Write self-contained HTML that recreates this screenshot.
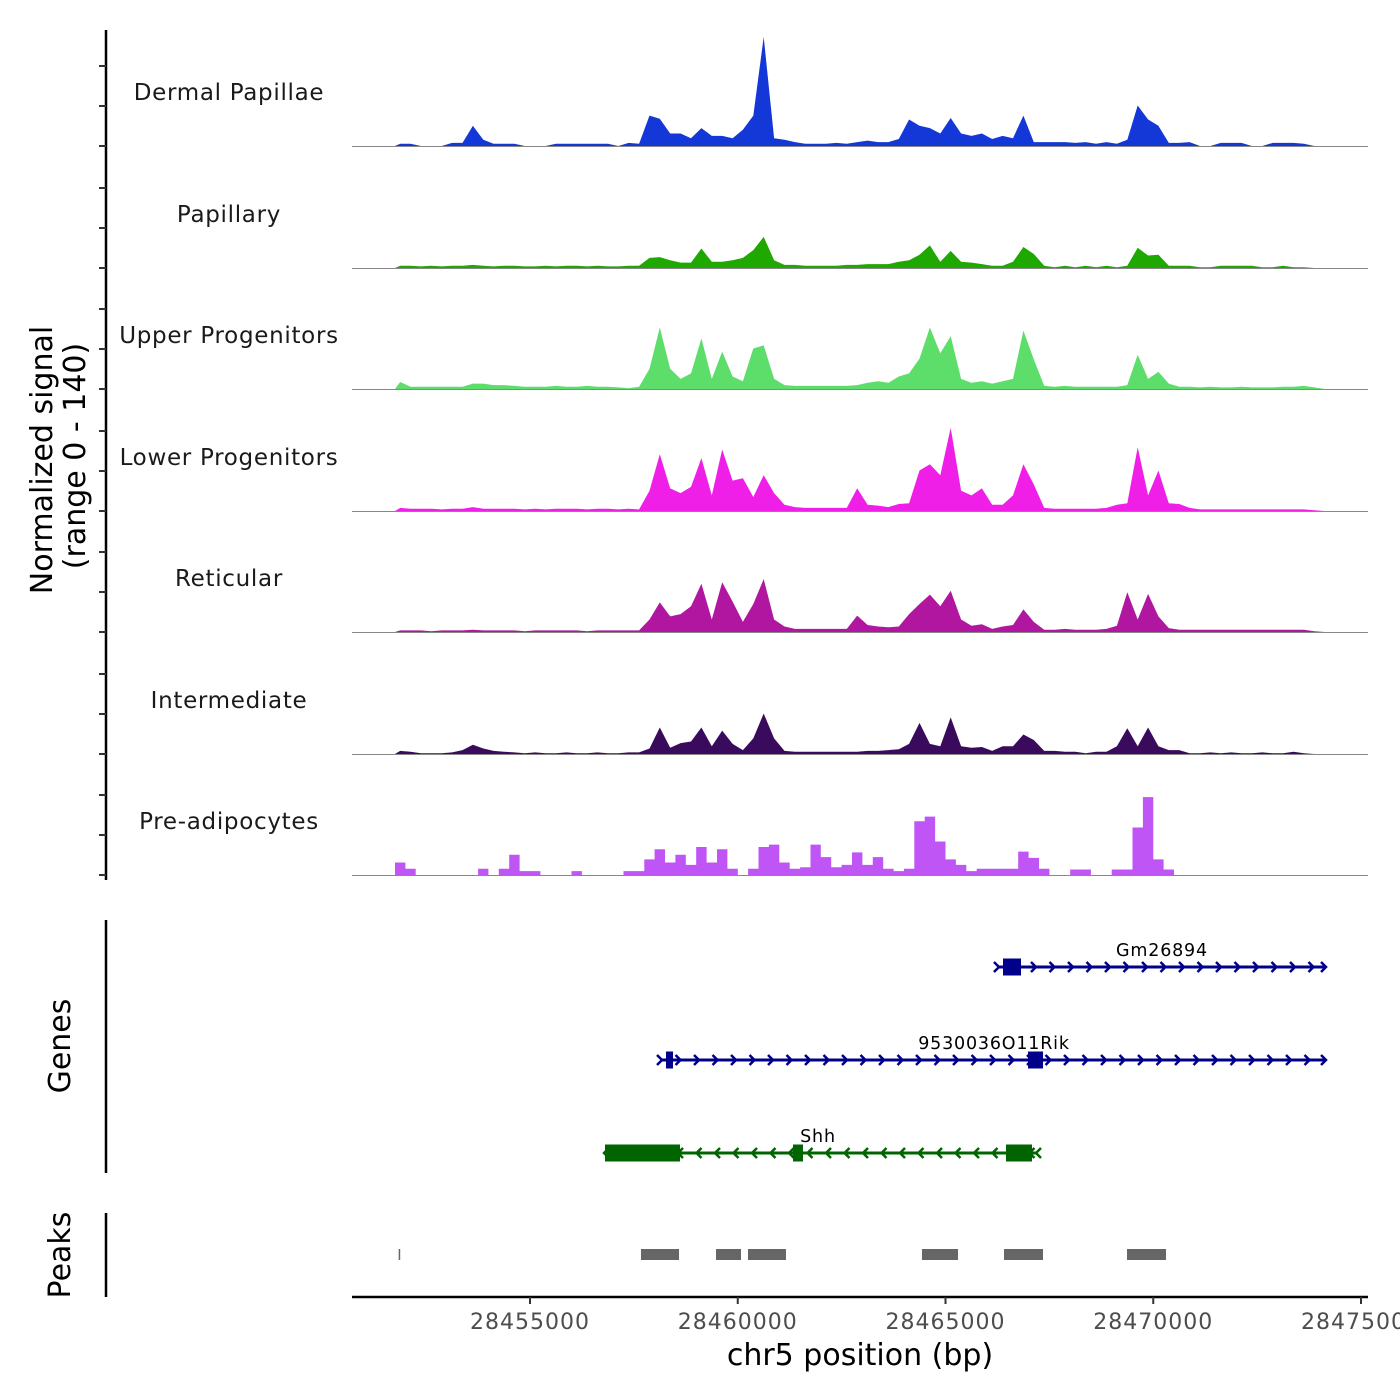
<!DOCTYPE html>
<html><head><meta charset="utf-8"><style>
html,body{margin:0;padding:0;background:#fff;}
svg{display:block;font-family:"DejaVu Sans","Liberation Sans",sans-serif;}
</style></head><body>
<svg id="chart" width="1400" height="1400" viewBox="0 0 1400 1400" xmlns="http://www.w3.org/2000/svg">
<rect x="0" y="0" width="1400" height="1400" fill="#fff"/>
<g id="tracks"></g>
<g id="genes"></g>
<g id="peaks"></g>
<g id="axes"></g>
<text transform="translate(52,460) rotate(-90)" text-anchor="middle" font-size="30" fill="#000">Normalized signal</text>
<text transform="translate(85,456) rotate(-90)" text-anchor="middle" font-size="30" fill="#000">(range 0 - 140)</text>
<text transform="translate(70,1046) rotate(-90)" text-anchor="middle" font-size="30" fill="#000">Genes</text>
<text transform="translate(70,1255) rotate(-90)" text-anchor="middle" font-size="30" fill="#000">Peaks</text>
<text x="860" y="1365" text-anchor="middle" font-size="30" fill="#000">chr5 position (bp)</text>
</svg>
<script>
const binStart = 28451750;
const binSize = 250;
const signalMax = 140;
const trackNames = ["Dermal Papillae","Papillary","Upper Progenitors","Lower Progenitors","Reticular","Intermediate","Pre-adipocytes"];
const trackColors = ["#1437d8","#1fa800","#5ddd6a","#f01fe8","#b0169f","#3a0a5c","#bf55f5"];
const dermalPapillae = [3,3,0,0,0,4,4,26,8,3, 3,3,0,0,0,3,3,3,3,3, 3,0,4,3,39,35,16,16,10,23, 13,13,10,21,39,140,10,8,5,3, 3,3,4,3,5,7,5,5,9,34, 26,23,16,36,16,13,16,9,13,10, 39,5,5,5,5,4,5,3,5,3, 8,52,34,26,4,4,5,0,0,4, 4,4,0,0,4,4,4,3,0,0];
const papillary = [3,3,2,3,2,3,3,4,3,2, 3,3,2,2,3,2,3,3,2,3, 2,2,3,3,13,14,10,7,7,25, 8,8,10,13,23,40,10,4,4,3, 3,3,3,4,4,5,5,5,8,10, 17,29,8,22,8,7,5,3,3,8, 27,18,3,1,3,1,3,1,3,1, 3,26,16,17,3,3,3,1,1,3, 3,3,3,1,1,3,1,1,0,0];
const upperProgenitors = [9,3,3,3,3,3,3,7,7,5, 5,4,3,3,3,4,3,3,4,3, 3,2,1,3,26,79,26,13,20,65, 13,48,16,10,52,56,13,5,4,4, 4,4,4,4,5,8,10,8,16,20, 39,79,46,68,13,8,10,7,10,13, 75,38,4,3,4,3,3,3,3,3, 5,44,13,22,7,3,3,2,3,2, 2,3,2,2,2,3,3,4,2,0];
const lowerProgenitors = [4,3,3,3,2,3,3,5,3,3, 3,3,2,3,2,3,3,3,2,3, 3,2,3,2,26,73,29,23,31,68, 20,79,39,42,18,46,23,8,5,4, 4,4,4,4,29,8,7,5,9,10, 52,60,46,107,26,20,29,8,8,20, 60,34,4,3,3,3,3,3,4,8, 10,82,20,52,10,9,4,2,2,2, 2,2,2,2,2,2,2,2,1,0];
const reticular = [2,2,2,1,2,2,2,3,2,2, 2,2,1,2,2,2,2,2,1,2, 2,2,2,2,16,38,20,23,33,62, 16,64,39,13,36,68,16,7,4,4, 4,4,4,4,21,9,7,6,7,23, 36,48,33,53,16,8,10,4,7,9, 29,13,3,3,4,3,3,3,4,8, 51,16,49,20,5,3,3,3,3,3, 3,3,3,3,3,3,3,3,1,0];
const intermediate = [4,3,1,1,1,2,5,12,7,4, 3,2,1,2,1,1,2,1,1,2, 1,1,2,2,7,34,8,14,16,34, 10,30,13,5,20,52,20,4,3,3, 3,3,3,3,3,4,4,5,6,13, 40,13,10,47,10,8,9,4,10,10, 25,18,4,4,3,3,1,3,3,10, 33,10,34,10,5,5,1,1,2,1, 2,1,1,2,1,1,3,1,0,0];
const preAdipocytes = [16,8,0,0,0,0,0,0,8,0, 8,26,5,5,0,0,0,5,0,0, 0,0,5,5,20,33,16,26,13,36, 16,33,8,0,8,36,39,16,8,10, 39,23,10,13,29,13,23,8,5,8, 69,75,43,20,13,5,8,8,8,8, 30,22,8,0,0,7,7,0,0,7, 7,61,100,20,7,0,0,0,0,0, 0,0,0,0,0,0,0,0,0,0];
const trackData = [dermalPapillae,papillary,upperProgenitors,lowerProgenitors,reticular,intermediate,preAdipocytes];
const xTicks = [28455000,28460000,28465000,28470000,28475000];
const xTickLabels = ["28455000","28460000","28465000","28470000","28475000"];
const geneNames = ["Gm26894","9530036O11Rik","Shh"];
const geneStarts = [28466263,28458153,28456805];
const geneEnds = [28474134,28474134,28467202];
const geneStrands = [1,1,-1];
const geneExons = [[[28466384,28466817]],[[28458273,28458442],[28466986,28467347]],[[28456805,28458610],[28461330,28461570],[28466456,28467082]]];
const geneColors = ["#00008b","#00008b","#006400"];
const peakStarts = [28451840,28457671,28459477,28460246,28464434,28466408,28469368];
const peakEnds = [28451870,28458586,28460078,28461161,28465301,28467347,28470307];

const NS="http://www.w3.org/2000/svg";
function mk(tag,attrs,parent){const e=document.createElementNS(NS,tag);for(const k in attrs)e.setAttribute(k,attrs[k]);parent.appendChild(e);return e;}
const X0=352,X1=1368;
function xScale(bp){return 530+(bp-28455000)*0.04155;}
const baselines=[146,268,389,511,632,754,875];
const pxPerUnit=109/signalMax;
const gT=document.getElementById('tracks');
trackData.forEach((arr,t)=>{
  const b=baselines[t];
  const g=mk('g',{},gT);
  
  
  let d='M'+xScale(binStart).toFixed(1)+','+b;
  const step=(t===6);
  arr.forEach((v,i)=>{
    const y=(b-v*pxPerUnit).toFixed(1);
    if(step){d+=' L'+xScale(binStart+i*binSize).toFixed(1)+','+y+' L'+xScale(binStart+(i+1)*binSize).toFixed(1)+','+y;}
    else d+=' L'+xScale(binStart+(i+0.5)*binSize).toFixed(1)+','+y;
  });
  d+=' L'+xScale(binStart+arr.length*binSize).toFixed(1)+','+b+' Z';
  const p=mk('path',{d:d,fill:trackColors[t],stroke:'none'},g);
  
  
  const ln=mk('line',{x1:X0,x2:X1,y1:b+0.5,y2:b+0.5,stroke:'#888','stroke-width':1},g);
  
  
  const lb=mk('text',{x:229,y:b-46,'text-anchor':'middle','font-size':23,fill:'#1a1a1a','letter-spacing':'0.7'},g);
  lb.textContent=trackNames[t];
  
  
});
const gA=document.getElementById('axes');
mk('line',{x1:106,x2:106,y1:30,y2:880,stroke:'#000','stroke-width':2.5},gA);
for(let t=0;t<7;t++){for(let k=0;k<3;k++){const y=baselines[t]-k*40;mk('line',{x1:99,x2:106,y1:y,y2:y,stroke:'#333','stroke-width':2},gA);}}
mk('line',{x1:106,x2:106,y1:920,y2:1173,stroke:'#000','stroke-width':2.5},gA);
mk('line',{x1:106,x2:106,y1:1213,y2:1297,stroke:'#000','stroke-width':2.5},gA);
mk('line',{x1:X0,x2:X1,y1:1297,y2:1297,stroke:'#000','stroke-width':2.5},gA);
xTicks.forEach((v,i)=>{
  const x=xScale(v);
  mk('line',{x1:x,x2:x,y1:1297,y2:1304,stroke:'#333','stroke-width':2},gA);
  const tx=mk('text',{x:x,y:1329,'text-anchor':'middle','font-size':22,fill:'#4d4d4d','letter-spacing':'1'},gA);
  tx.textContent=xTickLabels[i];
  
  
});
const gG=document.getElementById('genes');
const geneY=[967,1060,1153];
geneNames.forEach((n,i)=>{
  const y=geneY[i],c=geneColors[i];
  const g=mk('g',{},gG);
  
  
  const xs=xScale(geneStarts[i]),xe=xScale(geneEnds[i]);
  mk('line',{x1:xs,x2:xe,y1:y,y2:y,stroke:c,'stroke-width':3},g);
  const s=geneStrands[i];
  for(let x=xs+18.5;x<xe;x+=18.5){
    const pts=s>0?`${x-4},${y-5} ${x+1},${y} ${x-4},${y+5}`:`${x+4},${y-5} ${x-1},${y} ${x+4},${y+5}`;
    mk('polyline',{points:pts,fill:'none',stroke:c,'stroke-width':2.5},g);
  }
  [xs,xe].forEach(x=>{const pts=s>0?`${x-4},${y-5} ${x+1},${y} ${x-4},${y+5}`:`${x+4},${y-5} ${x-1},${y} ${x+4},${y+5}`;mk('polyline',{points:pts,fill:'none',stroke:c,'stroke-width':2.5},g);});
  geneExons[i].forEach(ex=>{
    const r=mk('rect',{x:xScale(ex[0]),y:y-8.5,width:Math.max(6,xScale(ex[1])-xScale(ex[0])),height:17,fill:c},g);
    
    
  });
  const lx=[1162,994,818][i];
  const tx=mk('text',{x:lx,y:y-11,'text-anchor':'middle','font-size':17.5,fill:'#000','letter-spacing':'0.8'},g);
  tx.textContent=n;
  
  
});
const gP=document.getElementById('peaks');
peakStarts.forEach((s,i)=>{
  const x=xScale(s),w=Math.max(1.5,xScale(peakEnds[i])-x);
  const r=mk('rect',{x:x,y:1249,width:w,height:11,fill:'#666'},gP);
  
  
});
</script>
</body></html>
